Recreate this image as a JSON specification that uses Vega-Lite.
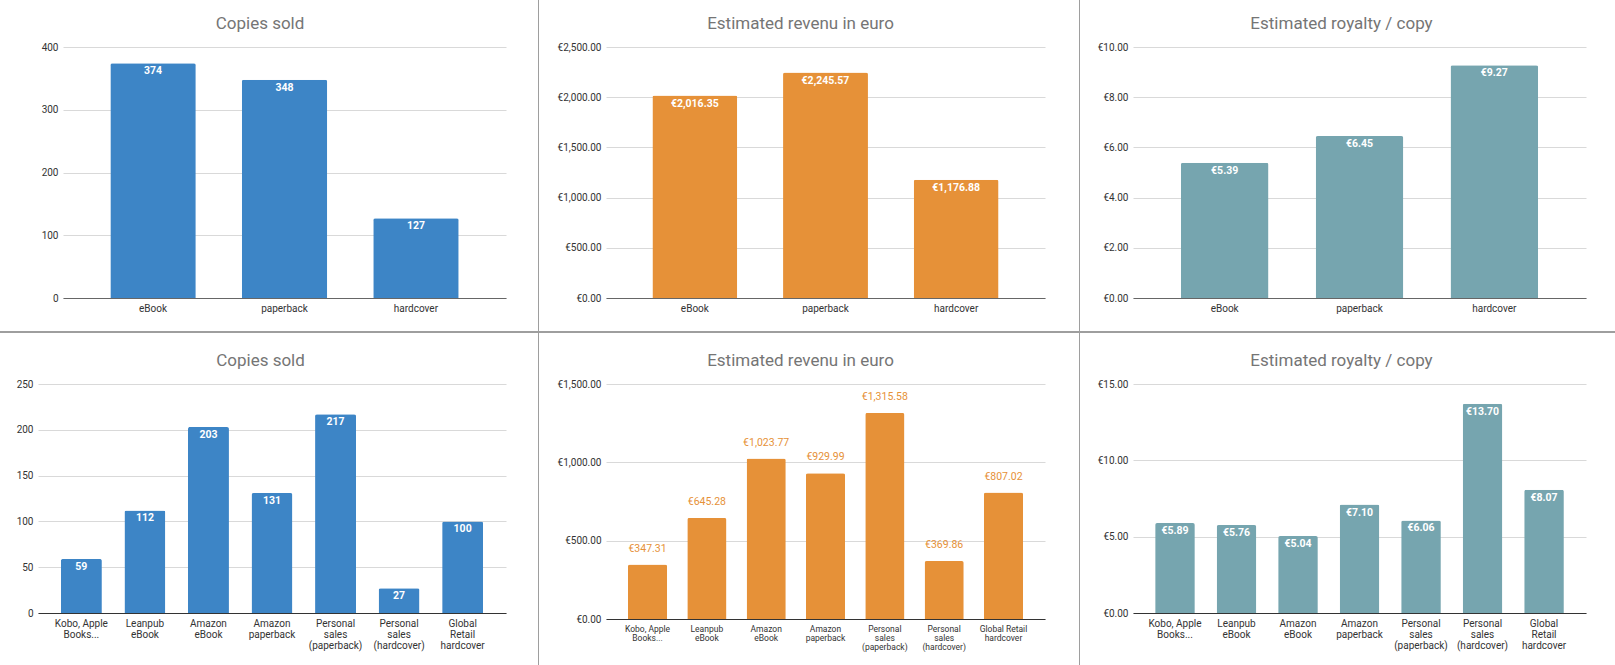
{
  "$schema": "https://vega.github.io/schema/vega-lite/v6.json",
  "padding": 0,
  "background": "white",
  "datasets": {
    "formats": [
      {"format": "eBook", "copies": 374, "revenue": 2016.35, "royalty": 5.39},
      {"format": "paperback", "copies": 348, "revenue": 2245.57, "royalty": 6.45},
      {"format": "hardcover", "copies": 127, "revenue": 1176.88, "royalty": 9.27}
    ],
    "channels": [
      {"channel": "Kobo, Apple Books...", "copies": 59, "revenue": 347.31, "royalty": 5.89},
      {"channel": "Leanpub eBook", "copies": 112, "revenue": 645.28, "royalty": 5.76},
      {"channel": "Amazon eBook", "copies": 203, "revenue": 1023.77, "royalty": 5.04},
      {"channel": "Amazon paperback", "copies": 131, "revenue": 929.99, "royalty": 7.10},
      {"channel": "Personal sales (paperback)", "copies": 217, "revenue": 1315.58, "royalty": 6.06},
      {"channel": "Personal sales (hardcover)", "copies": 27, "revenue": 369.86, "royalty": 13.70},
      {"channel": "Global Retail hardcover", "copies": 100, "revenue": 807.02, "royalty": 8.07}
    ]
  },
  "hconcat": [
    {
      "spacing": 0,
      "vconcat": [
        {"data": {"values": []}, "mark": "point", "width": 538, "height": 15},
        {
          "spacing": 0, "bounds": "flush",
          "hconcat": [
            {"data": {"values": []}, "mark": "point", "width": 63, "height": 284},
            {
              "title": {"text": "Copies sold", "dx": -24.5},
              "data": {"name": "formats"},
              "width": 443, "height": 251,
              "encoding": {
                "x": {"field": "format", "type": "nominal", "sort": null, "scale": {"paddingInner": 0.35, "paddingOuter": 0.36}, "axis": {"title": null, "domainColor": "#666"}},
                "y": {"field": "copies", "type": "quantitative", "scale": {"domain": [0, 400], "nice": false}, "axis": {"title": null, "values": [0, 100, 200, 300, 400], "format": "d"}}
              },
              "layer": [
                {"mark": {"type": "bar", "color": "#3d85c6", "cornerRadiusTopLeft": 2, "cornerRadiusTopRight": 2}},
                {"mark": {"type": "text", "color": "#ffffff", "fontWeight": "bold", "fontSize": 10.5, "baseline": "middle", "dy": 8}, "encoding": {"text": {"field": "copies", "type": "quantitative", "format": "d"}}}
              ]
            }
          ]
        },
        {"data": {"values": []}, "mark": "point", "width": 538, "height": 2, "view": {"fill": "#9e9e9e", "stroke": null}},
        {"data": {"values": []}, "mark": "point", "width": 1, "height": 19},
        {
          "spacing": 0, "bounds": "flush",
          "hconcat": [
            {"data": {"values": []}, "mark": "point", "width": 38, "height": 1},
            {
              "title": {"text": "Copies sold", "dx": -11.5},
              "data": {"name": "channels"},
              "width": 468, "height": 229,
              "encoding": {
                "x": {"field": "channel", "type": "nominal", "sort": null, "scale": {"paddingInner": 0.355, "paddingOuter": 0.36}, "axis": {"title": null, "domainColor": "#333", "labelLineHeight": 11, "labelExpr": "{'Kobo, Apple Books...': ['Kobo, Apple', 'Books...'], 'Leanpub eBook': ['Leanpub', 'eBook'], 'Amazon eBook': ['Amazon', 'eBook'], 'Amazon paperback': ['Amazon', 'paperback'], 'Personal sales (paperback)': ['Personal', 'sales', '(paperback)'], 'Personal sales (hardcover)': ['Personal', 'sales', '(hardcover)'], 'Global Retail hardcover': ['Global', 'Retail', 'hardcover']}[datum.value]"}},
                "y": {"field": "copies", "type": "quantitative", "scale": {"domain": [0, 250], "nice": false}, "axis": {"title": null, "values": [0, 50, 100, 150, 200, 250], "format": "d"}}
              },
              "layer": [
                {"mark": {"type": "bar", "color": "#3d85c6", "cornerRadiusTopLeft": 2, "cornerRadiusTopRight": 2}},
                {"mark": {"type": "text", "color": "#ffffff", "fontWeight": "bold", "fontSize": 10.5, "baseline": "middle", "dy": 8}, "encoding": {"text": {"field": "copies", "type": "quantitative", "format": "d"}}}
              ]
            }
          ]
        }
      ]
    },
    {"data": {"values": []}, "mark": "point", "width": 1, "height": 665, "view": {"fill": "#9e9e9e", "stroke": null}},
    {
      "spacing": 0,
      "vconcat": [
        {"data": {"values": []}, "mark": "point", "width": 540, "height": 15},
        {
          "spacing": 0, "bounds": "flush",
          "hconcat": [
            {"data": {"values": []}, "mark": "point", "width": 67, "height": 284},
            {
              "title": {"text": "Estimated revenu in euro", "dx": -25},
              "data": {"name": "formats"},
              "width": 439, "height": 251,
              "encoding": {
                "x": {"field": "format", "type": "nominal", "sort": null, "scale": {"paddingInner": 0.35, "paddingOuter": 0.355}, "axis": {"title": null, "domainColor": "#666"}},
                "y": {"field": "revenue", "type": "quantitative", "scale": {"domain": [0, 2500], "nice": false}, "axis": {"title": null, "values": [0, 500, 1000, 1500, 2000, 2500], "format": "$,.2f"}}
              },
              "layer": [
                {"mark": {"type": "bar", "color": "#e69138", "cornerRadiusTopLeft": 2, "cornerRadiusTopRight": 2}},
                {"mark": {"type": "text", "color": "#ffffff", "fontWeight": "bold", "fontSize": 10.5, "baseline": "middle", "dy": 8}, "encoding": {"text": {"field": "revenue", "type": "quantitative", "format": "$,.2f"}}}
              ]
            }
          ]
        },
        {"data": {"values": []}, "mark": "point", "width": 540, "height": 2, "view": {"fill": "#9e9e9e", "stroke": null}},
        {"data": {"values": []}, "mark": "point", "width": 1, "height": 19},
        {
          "spacing": 0, "bounds": "flush",
          "hconcat": [
            {"data": {"values": []}, "mark": "point", "width": 67, "height": 1},
            {
              "title": {"text": "Estimated revenu in euro", "dx": -25},
              "data": {"name": "channels"},
              "width": 439, "height": 235,
              "encoding": {
                "x": {"field": "channel", "type": "nominal", "sort": null, "scale": {"paddingInner": 0.34, "paddingOuter": 0.37}, "axis": {"title": null, "domainColor": "#333", "labelFontSize": 8.5, "labelLineHeight": 9, "labelExpr": "{'Kobo, Apple Books...': ['Kobo, Apple', 'Books...'], 'Leanpub eBook': ['Leanpub', 'eBook'], 'Amazon eBook': ['Amazon', 'eBook'], 'Amazon paperback': ['Amazon', 'paperback'], 'Personal sales (paperback)': ['Personal', 'sales', '(paperback)'], 'Personal sales (hardcover)': ['Personal', 'sales', '(hardcover)'], 'Global Retail hardcover': ['Global Retail', 'hardcover']}[datum.value]"}},
                "y": {"field": "revenue", "type": "quantitative", "scale": {"domain": [0, 1500], "nice": false}, "axis": {"title": null, "values": [0, 500, 1000, 1500], "format": "$,.2f"}}
              },
              "layer": [
                {"mark": {"type": "bar", "color": "#e69138", "cornerRadiusTopLeft": 2, "cornerRadiusTopRight": 2}},
                {"mark": {"type": "text", "color": "#e69138", "fontSize": 10.5, "baseline": "middle", "dy": -16}, "encoding": {"text": {"field": "revenue", "type": "quantitative", "format": "$,.2f"}}}
              ]
            }
          ]
        }
      ]
    },
    {"data": {"values": []}, "mark": "point", "width": 1, "height": 665, "view": {"fill": "#9e9e9e", "stroke": null}},
    {
      "spacing": 0,
      "vconcat": [
        {"data": {"values": []}, "mark": "point", "width": 535, "height": 15},
        {
          "spacing": 0, "bounds": "flush",
          "hconcat": [
            {"data": {"values": []}, "mark": "point", "width": 53, "height": 284},
            {
              "title": {"text": "Estimated royalty / copy", "dx": -18},
              "data": {"name": "formats"},
              "width": 453, "height": 251,
              "encoding": {
                "x": {"field": "format", "type": "nominal", "sort": null, "scale": {"paddingInner": 0.35, "paddingOuter": 0.355}, "axis": {"title": null, "domainColor": "#666"}},
                "y": {"field": "royalty", "type": "quantitative", "scale": {"domain": [0, 10], "nice": false}, "axis": {"title": null, "values": [0, 2, 4, 6, 8, 10], "format": "$,.2f"}}
              },
              "layer": [
                {"mark": {"type": "bar", "color": "#76a5af", "cornerRadiusTopLeft": 2, "cornerRadiusTopRight": 2}},
                {"mark": {"type": "text", "color": "#ffffff", "fontWeight": "bold", "fontSize": 10.5, "baseline": "middle", "dy": 8}, "encoding": {"text": {"field": "royalty", "type": "quantitative", "format": "$,.2f"}}}
              ]
            }
          ]
        },
        {"data": {"values": []}, "mark": "point", "width": 535, "height": 2, "view": {"fill": "#9e9e9e", "stroke": null}},
        {"data": {"values": []}, "mark": "point", "width": 1, "height": 19},
        {
          "spacing": 0, "bounds": "flush",
          "hconcat": [
            {"data": {"values": []}, "mark": "point", "width": 53, "height": 1},
            {
              "title": {"text": "Estimated royalty / copy", "dx": -18},
              "data": {"name": "channels"},
              "width": 453, "height": 229,
              "encoding": {
                "x": {"field": "channel", "type": "nominal", "sort": null, "scale": {"paddingInner": 0.355, "paddingOuter": 0.36}, "axis": {"title": null, "domainColor": "#333", "labelLineHeight": 11, "labelExpr": "{'Kobo, Apple Books...': ['Kobo, Apple', 'Books...'], 'Leanpub eBook': ['Leanpub', 'eBook'], 'Amazon eBook': ['Amazon', 'eBook'], 'Amazon paperback': ['Amazon', 'paperback'], 'Personal sales (paperback)': ['Personal', 'sales', '(paperback)'], 'Personal sales (hardcover)': ['Personal', 'sales', '(hardcover)'], 'Global Retail hardcover': ['Global', 'Retail', 'hardcover']}[datum.value]"}},
                "y": {"field": "royalty", "type": "quantitative", "scale": {"domain": [0, 15], "nice": false}, "axis": {"title": null, "values": [0, 5, 10, 15], "format": "$,.2f"}}
              },
              "layer": [
                {"mark": {"type": "bar", "color": "#76a5af", "cornerRadiusTopLeft": 2, "cornerRadiusTopRight": 2}},
                {"mark": {"type": "text", "color": "#ffffff", "fontWeight": "bold", "fontSize": 10.5, "baseline": "middle", "dy": 8}, "encoding": {"text": {"field": "royalty", "type": "quantitative", "format": "$,.2f"}}}
              ]
            }
          ]
        }
      ]
    }
  ],
  "spacing": 0,
  "config": {
    "font": "Roboto",
    "locale": {"number": {"decimal": ".", "thousands": ",", "grouping": [3], "currency": ["€", ""]}},
    "view": {"stroke": null},
    "title": {"font": "Roboto", "fontSize": 17, "fontWeight": "normal", "color": "#757575", "anchor": "middle", "frame": "group", "baseline": "alphabetic", "offset": 9},
    "axis": {"labelFont": "Roboto", "labelFontSize": 10, "labelColor": "#333333", "ticks": false, "labelPadding": 5},
    "axisX": {"grid": false, "domain": true, "labelAngle": 0},
    "axisY": {"domain": false, "grid": true, "gridColor": "#d9d9d9"},
    "text": {"font": "Roboto", "fontSize": 10}
  }
}
